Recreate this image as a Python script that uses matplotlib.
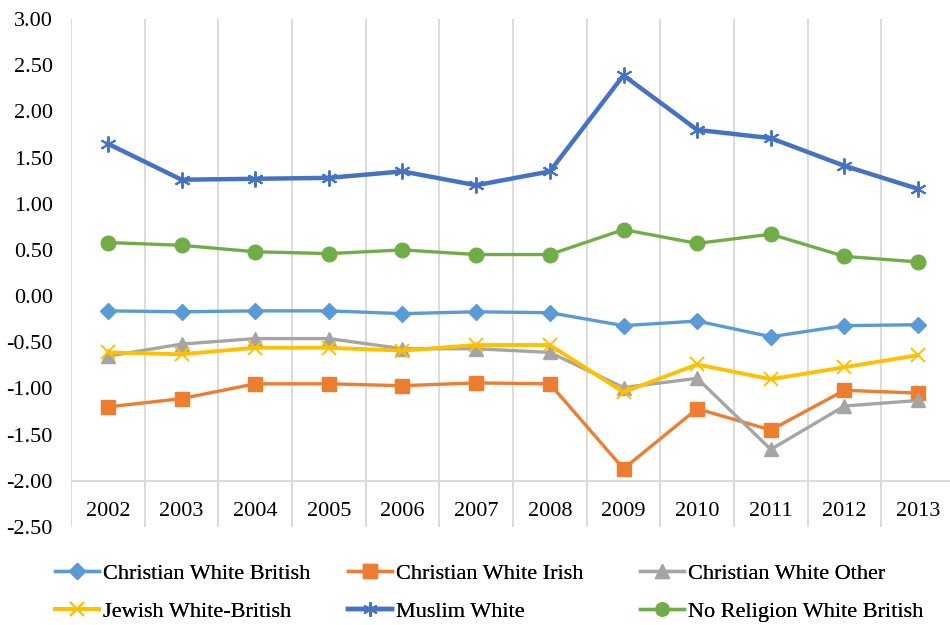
import matplotlib
matplotlib.use("Agg")
import matplotlib.pyplot as plt

plt.rcParams['font.family'] = ['Liberation Serif', 'DejaVu Serif']

years = ['2002', '2003', '2004', '2005', '2006', '2007',
         '2008', '2009', '2010', '2011', '2012', '2013']

christian_white_british = [-0.16, -0.17, -0.16, -0.16, -0.19, -0.17,
                           -0.18, -0.32, -0.27, -0.44, -0.32, -0.31]
christian_white_irish = [-1.20, -1.11, -0.95, -0.95, -0.97, -0.94,
                         -0.95, -1.87, -1.22, -1.45, -1.02, -1.05]
christian_white_other = [-0.65, -0.52, -0.46, -0.46, -0.57, -0.57,
                         -0.61, -0.99, -0.89, -1.66, -1.19, -1.13]
jewish_white_british = [-0.61, -0.63, -0.56, -0.56, -0.59, -0.53,
                        -0.53, -1.04, -0.74, -0.90, -0.77, -0.64]
muslim_white = [1.65, 1.26, 1.27, 1.28, 1.35, 1.20,
                1.35, 2.39, 1.80, 1.71, 1.41, 1.16]
no_religion_white_british = [0.58, 0.55, 0.48, 0.46, 0.50, 0.45,
                             0.45, 0.72, 0.57, 0.67, 0.43, 0.37]

series = [
    ('Christian White British', christian_white_british, '#5B9BD5', 'D', 8.5, 2.4),
    ('Christian White Irish', christian_white_irish, '#ED7D31', 's', 10.5, 2.4),
    ('Christian White Other', christian_white_other, '#A5A5A5', '^', 10.5, 2.4),
    ('Jewish White-British', jewish_white_british, '#FFC000', 'x', 10.5, 2.8),
    ('Muslim White', muslim_white, '#4472C4', (6, 2, 0), 11.5, 3.2),
    ('No Religion White British', no_religion_white_british, '#70AD47', 'o', 10.5, 2.4),
]

fig = plt.figure(figsize=(9.5, 6.25), dpi=100)
ax = fig.add_axes([71 / 950, 0.1568, (955 - 71) / 950, 0.8128])

x = list(range(len(years)))
handles = []
for name, vals, col, mk, ms, lw in series:
    mew = 1.4 if mk in ('x', (6, 2, 0)) else 1
    h, = ax.plot(x, vals, color=col, lw=lw, marker=mk, ms=ms,
                 mfc=col, mec=col, mew=mew, label=name, zorder=3)
    handles.append(h)

ax.set_xlim(-0.5, len(years) - 0.5)
ax.set_ylim(-2.5, 3.0)
ax.set_yticks([-2.5, -2.0, -1.5, -1.0, -0.5, 0.0, 0.5, 1.0, 1.5, 2.0, 2.5, 3.0])
ax.yaxis.set_major_formatter(matplotlib.ticker.FormatStrFormatter('%.2f'))
ax.tick_params(axis='y', length=0, pad=13, labelsize=16)

# gridlines between categories, axis line at -2
for b in range(len(years) + 1):
    ax.axvline(b - 0.5, color='#D9D9D9', lw=1.3, zorder=1)
ax.axhline(-2.0, color='#D9D9D9', lw=1.3, zorder=1)
ax.set_xticks([])
for i, yr in enumerate(years):
    ax.text(i, -2.33, yr, ha='center', va='center', fontsize=16)

for s in ax.spines.values():
    s.set_visible(False)

# legend: three columns, two rows
cols = [[0, 3], [1, 4], [2, 5]]
col_x = [55, 348, 640]
for cx, idx in zip(col_x, cols):
    leg = fig.legend(handles=[handles[i] for i in idx], loc='upper left',
                     bbox_to_anchor=(cx / 950, 1 - 563 / 625), frameon=False,
                     fontsize=16, borderpad=0, borderaxespad=0,
                     handlelength=2.0, handletextpad=0.15, labelspacing=0.8,
                     markerscale=0.9)
    fig.add_artist(leg)

fig.savefig('out.png', dpi=100)
